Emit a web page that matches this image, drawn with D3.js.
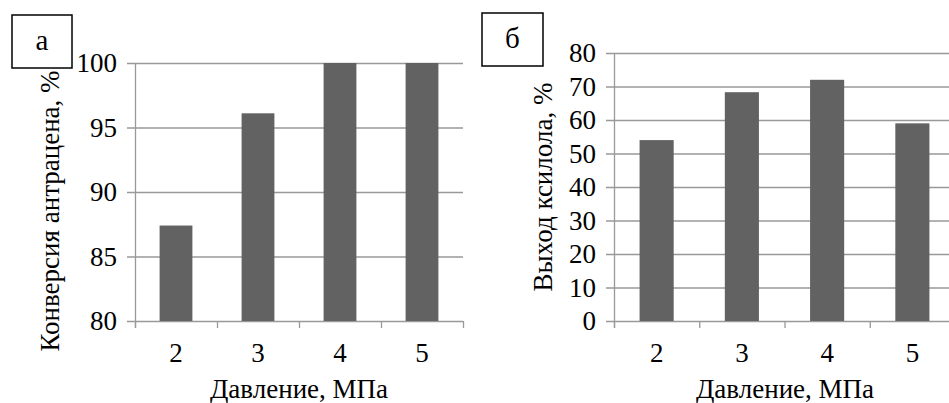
<!DOCTYPE html>
<html>
<head>
<meta charset="utf-8">
<script src="https://cdn.jsdelivr.net/npm/d3@7"></script>
</head>
<body style="margin:0">
<svg id="chart" width="949" height="403"></svg>
<script>
// pressure, MPa
const pressures = ['2', '3', '4', '5'];
// panel а: anthracene conversion, %
const conversion = [87.4, 96.1, 100, 100];
const convTicks = [80, 85, 90, 95, 100];
// panel б: xylene yield, %
const xyleneYield = [54, 68.3, 72, 59];
const yieldTicks = [0, 10, 20, 30, 40, 50, 60, 70, 80];

const svg = d3.select('#chart');

function label(sel, size) {
  return sel
    .attr('font-family', 'Liberation Serif')
    .attr('font-size', size);
}

function drawPanel(opts) {
  const x = d3.scaleBand()
    .domain(pressures)
    .range([opts.left, opts.right])
    .paddingInner(0.6)
    .paddingOuter(0.3);

  const y = d3.scaleLinear()
    .domain(opts.domain)
    .range([opts.bottom, opts.top]);

  // y tick labels
  label(svg.append('g').selectAll('text')
    .data(opts.ticks)
    .join('text')
    .attr('x', opts.left - 18)
    .attr('y', d => y(d))
    .attr('dy', '0.34em')
    .attr('text-anchor', 'end'), 27)
    .text(d => d);

  // x tick labels
  label(svg.append('g').selectAll('text')
    .data(pressures)
    .join('text')
    .attr('x', d => x(d) + x.bandwidth() / 2)
    .attr('y', opts.bottom + 41)
    .attr('text-anchor', 'middle'), 27)
    .text(d => d);

  // x title
  label(svg.append('text')
    .attr('x', opts.xTitleX)
    .attr('y', 398)
    .attr('text-anchor', 'middle'), 27)
    .text('Давление, МПа');

  // y title
  label(svg.append('text')
    .attr('transform', `translate(${opts.yTitleX},${opts.yTitleY}) rotate(-90)`)
    .attr('text-anchor', 'middle'), 27)
    .text(opts.yTitle);

  // gridlines (with left tick stubs)
  svg.append('g')
    .selectAll('line')
    .data(opts.ticks)
    .join('line')
    .attr('x1', opts.left - 8)
    .attr('x2', opts.right)
    .attr('y1', d => y(d) + 0.5)
    .attr('y2', d => y(d) + 0.5)
    .attr('stroke', '#999')
    .attr('stroke-width', 1.3);

  // bars
  svg.append('g')
    .selectAll('rect')
    .data(opts.values)
    .join('rect')
    .attr('x', (d, i) => x(pressures[i]))
    .attr('width', x.bandwidth())
    .attr('y', d => y(d))
    .attr('height', d => y(opts.domain[0]) - y(d))
    .attr('fill', '#626262');

  // y axis line
  svg.append('line')
    .attr('x1', opts.left + 0.5).attr('x2', opts.left + 0.5)
    .attr('y1', opts.top).attr('y2', opts.bottom + 7)
    .attr('stroke', '#999').attr('stroke-width', 1.3);

  // x category ticks between bands
  const step = (opts.right - opts.left) / pressures.length;
  svg.append('g')
    .selectAll('line')
    .data(d3.range(pressures.length + 1))
    .join('line')
    .attr('x1', i => opts.left + i * step + 0.5)
    .attr('x2', i => opts.left + i * step + 0.5)
    .attr('y1', opts.bottom)
    .attr('y2', opts.bottom + 7)
    .attr('stroke', '#999').attr('stroke-width', 1.3);

  // panel letter box
  svg.append('rect')
    .attr('x', opts.box[0]).attr('y', opts.box[1])
    .attr('width', opts.box[2]).attr('height', opts.box[3])
    .attr('fill', '#fff').attr('stroke', '#000').attr('stroke-width', 1.5);
  label(svg.append('text')
    .attr('x', opts.box[0] + opts.box[2] / 2)
    .attr('y', opts.box[1] + opts.box[3] / 2)
    .attr('dy', '0.3em')
    .attr('text-anchor', 'middle'), 29)
    .text(opts.letter);
}

drawPanel({
  left: 135, right: 463, top: 63, bottom: 321,
  domain: [80, 100], ticks: convTicks, values: conversion,
  xTitleX: 299, yTitleX: 59, yTitleY: 211,
  yTitle: 'Конверсия антрацена, %',
  box: [12, 15, 60, 53], letter: 'а'
});

drawPanel({
  left: 614, right: 955, top: 53, bottom: 321,
  domain: [0, 80], ticks: yieldTicks, values: xyleneYield,
  xTitleX: 785, yTitleX: 552, yTitleY: 187,
  yTitle: 'Выход ксилола, %',
  box: [482, 13, 61, 53], letter: 'б'
});
</script>
</body>
</html>
